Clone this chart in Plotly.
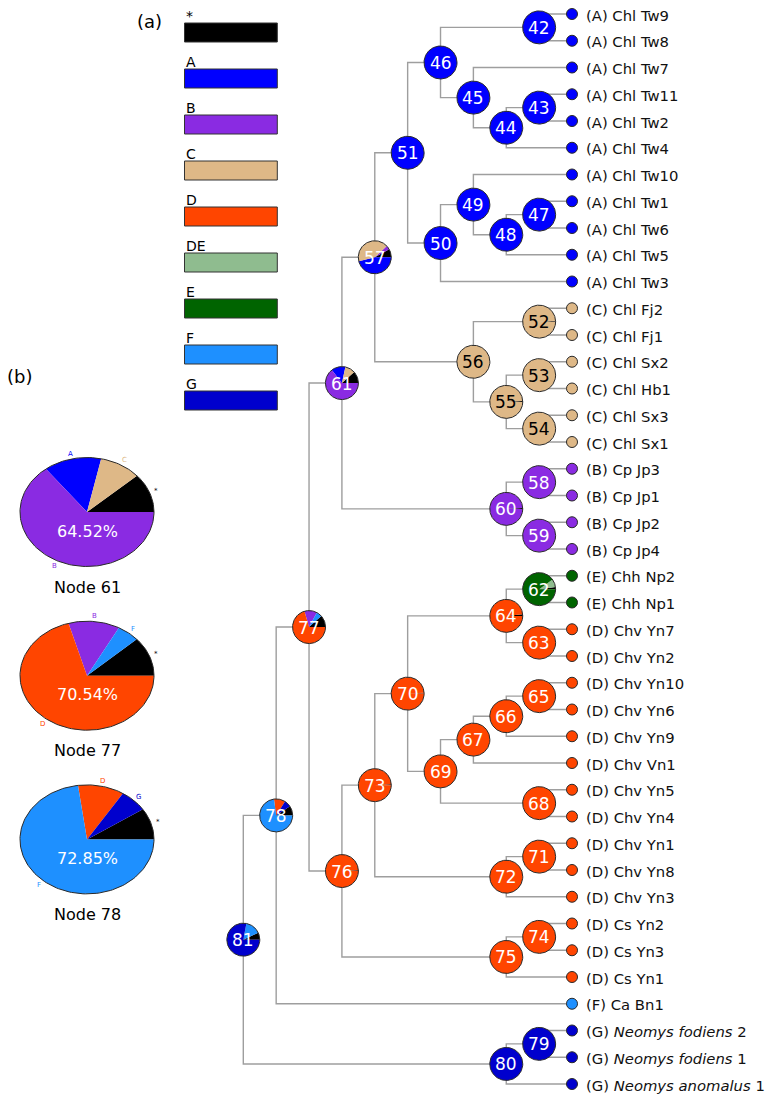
import math
import plotly.graph_objects as go

W, H = 776, 1103
BODY = 8  # default page margin of the html body

# ---------------- data ----------------
group_names = ["*", "A", "B", "C", "D", "DE", "E", "F", "G"]
group_colors = ["#000000", "#0000FF", "#8A2BE2", "#DEB887", "#FF4500",
                "#8FBC8F", "#006400", "#1E90FF", "#0000CD"]

tip_names = ["Chl Tw9", "Chl Tw8", "Chl Tw7", "Chl Tw11", "Chl Tw2", "Chl Tw4",
             "Chl Tw10", "Chl Tw1", "Chl Tw6", "Chl Tw5", "Chl Tw3",
             "Chl Fj2", "Chl Fj1", "Chl Sx2", "Chl Hb1", "Chl Sx3", "Chl Sx1",
             "Cp Jp3", "Cp Jp1", "Cp Jp2", "Cp Jp4",
             "Chh Np2", "Chh Np1",
             "Chv Yn7", "Chv Yn2", "Chv Yn10", "Chv Yn6", "Chv Yn9", "Chv Vn1",
             "Chv Yn5", "Chv Yn4", "Chv Yn1", "Chv Yn8", "Chv Yn3",
             "Cs Yn2", "Cs Yn3", "Cs Yn1",
             "Ca Bn1",
             "Neomys fodiens 2", "Neomys fodiens 1", "Neomys anomalus 1"]
tip_groups = ["A", "A", "A", "A", "A", "A", "A", "A", "A", "A", "A",
              "C", "C", "C", "C", "C", "C",
              "B", "B", "B", "B",
              "E", "E",
              "D", "D", "D", "D", "D", "D", "D", "D", "D", "D", "D",
              "D", "D", "D",
              "F",
              "G", "G", "G"]

node_children = {
    42: ["Chl Tw9", "Chl Tw8"],
    43: ["Chl Tw11", "Chl Tw2"],
    44: [43, "Chl Tw4"],
    45: ["Chl Tw7", 44],
    46: [42, 45],
    47: ["Chl Tw1", "Chl Tw6"],
    48: [47, "Chl Tw5"],
    49: ["Chl Tw10", 48],
    50: [49, "Chl Tw3"],
    51: [46, 50],
    52: ["Chl Fj2", "Chl Fj1"],
    53: ["Chl Sx2", "Chl Hb1"],
    54: ["Chl Sx3", "Chl Sx1"],
    55: [53, 54],
    56: [52, 55],
    57: [51, 56],
    58: ["Cp Jp3", "Cp Jp1"],
    59: ["Cp Jp2", "Cp Jp4"],
    60: [58, 59],
    61: [57, 60],
    62: ["Chh Np2", "Chh Np1"],
    63: ["Chv Yn7", "Chv Yn2"],
    64: [62, 63],
    65: ["Chv Yn10", "Chv Yn6"],
    66: [65, "Chv Yn9"],
    67: [66, "Chv Vn1"],
    68: ["Chv Yn5", "Chv Yn4"],
    69: [67, 68],
    70: [64, 69],
    71: ["Chv Yn1", "Chv Yn8"],
    72: [71, "Chv Yn3"],
    73: [70, 72],
    74: ["Cs Yn2", "Cs Yn3"],
    75: [74, "Cs Yn1"],
    76: [73, 75],
    77: [61, 76],
    78: [77, "Ca Bn1"],
    79: ["Neomys fodiens 2", "Neomys fodiens 1"],
    80: [79, "Neomys anomalus 1"],
    81: [78, 80],
}

# ancestral-state probabilities (%) per node, slice order counter-clockwise from 3 o'clock
node_pie_groups = {
    42: ["A"], 43: ["A"], 44: ["A"], 45: ["A"], 46: ["A"], 47: ["A"], 48: ["A"],
    49: ["A"], 50: ["A"], 51: ["A"],
    52: ["*", "C"], 53: ["C"], 54: ["C"], 55: ["*", "C"], 56: ["C"],
    57: ["*", "B", "C", "A"],
    58: ["B"], 59: ["B"], 60: ["*", "B"],
    61: ["*", "C", "A", "B"],
    62: ["*", "DE", "E"], 63: ["D"], 64: ["*", "D"], 65: ["D"], 66: ["D"],
    67: ["D"], 68: ["D"], 69: ["D"], 70: ["*", "D"], 71: ["D"], 72: ["D"],
    73: ["*", "D"], 74: ["D"], 75: ["D"], 76: ["*", "D"],
    77: ["*", "F", "B", "D"],
    78: ["*", "G", "D", "F"],
    79: ["G"], 80: ["G"],
    81: ["*", "F", "G"],
}
node_pie_values = {
    42: [100], 43: [100], 44: [100], 45: [100], 46: [100], 47: [100], 48: [100],
    49: [100], 50: [100], 51: [100],
    52: [0.8, 99.2], 53: [100], 54: [100], 55: [0.8, 99.2], 56: [100],
    57: [8.0, 4.0, 42.0, 46.0],
    58: [100], 59: [100], 60: [0.8, 99.2],
    61: [11.6, 10.0, 13.88, 64.52],
    62: [2.0, 8.0, 90.0], 63: [100], 64: [1.5, 98.5], 65: [100], 66: [100],
    67: [100], 68: [100], 69: [100], 70: [0.8, 99.2], 71: [100], 72: [100],
    73: [0.8, 99.2], 74: [100], 75: [100], 76: [0.8, 99.2],
    77: [11.7, 5.4, 12.36, 70.54],
    78: [9.3, 6.7, 11.15, 72.85],
    79: [100], 80: [100],
    81: [7.0, 15.0, 78.0],
}

pie_panel_nodes = [61, 77, 78]

# ---------------- layout constants ----------------
TIP_Y0, TIP_DY = 14.0, 26.75
X_ROOT, X_STEP = 243.3, 32.87
NODE_R = 16.5
TIP_LABEL_X = 585
FONT = "DejaVu Sans"

color_of = dict(zip(group_names, group_colors))

# ---------------- tree geometry ----------------
pos = {}
height = {}
for name in tip_names:
    height[name] = 0


def compute(n):
    ch = node_children[n]
    for c in ch:
        if isinstance(c, int) and c not in height:
            compute(c)
    height[n] = 1 + max(height[c] for c in ch)


for n in node_children:
    if n not in height:
        compute(n)
max_h = max(height[n] for n in node_children)

for i, name in enumerate(tip_names):
    pos[name] = (X_ROOT + max_h * X_STEP, TIP_Y0 + i * TIP_DY)


def place(n):
    ch = node_children[n]
    for c in ch:
        if isinstance(c, int) and c not in pos:
            place(c)
    ys = [pos[c][1] for c in ch]
    pos[n] = (X_ROOT + (max_h - height[n]) * X_STEP, (ys[0] + ys[-1]) / 2)


for n in node_children:
    if n not in pos:
        place(n)

fig = go.Figure()

# branches
bx, by = [], []
for n, ch in node_children.items():
    px, py = pos[n]
    for c in ch:
        cx, cy = pos[c]
        bx += [px, px, cx, None]
        by += [py, cy, cy, None]
fig.add_trace(go.Scatter(x=bx, y=by, mode="lines", line=dict(color="#9e9e9e", width=1.4),
                         hoverinfo="skip"))


def wedge(cx, cy, rx, ry, a0, a1):
    xs, ys = [], []
    full = (a1 - a0) >= 359.999
    nseg = max(2, int(abs(a1 - a0) / 2) + 1)
    if not full:
        xs.append(cx)
        ys.append(cy)
    for k in range(nseg + 1):
        a = math.radians(a0 + (a1 - a0) * k / nseg)
        xs.append(cx + rx * math.cos(a))
        ys.append(cy - ry * math.sin(a))
    xs.append(xs[0])
    ys.append(ys[0])
    return xs, ys


poly = {g: ([], []) for g in group_names}
outline_x, outline_y = [], []


def add_pie(cx, cy, rx, ry, groups, values):
    tot = sum(values)
    a = 0.0
    spans = []
    for g, v in zip(groups, values):
        a1 = a + 360.0 * v / tot
        xs, ys = wedge(cx, cy, rx, ry, a, a1)
        poly[g][0].extend(xs + [None])
        poly[g][1].extend(ys + [None])
        spans.append((g, v, a, a1))
        a = a1
    xs, ys = wedge(cx, cy, rx, ry, 0, 360)
    outline_x.extend(xs + [None])
    outline_y.extend(ys + [None])
    return spans


for n in node_children:
    cx, cy = pos[n]
    add_pie(cx, cy, NODE_R, NODE_R, node_pie_groups[n], node_pie_values[n])

# pie panel (b)
PIE_CX, PIE_CY0, PIE_DY = 87.0, 512.0, 163.7
PIE_RX, PIE_RY = 67.0, 54.5
annotations = []
for k, n in enumerate(pie_panel_nodes):
    cy = PIE_CY0 + k * PIE_DY
    spans = add_pie(PIE_CX, cy, PIE_RX, PIE_RY, node_pie_groups[n], node_pie_values[n])
    best = max(spans, key=lambda s: s[1])
    for g, v, a0, a1 in spans:
        am = math.radians((a0 + a1) / 2)
        annotations.append(dict(x=PIE_CX + PIE_RX * 1.1 * math.cos(am),
                                y=cy - PIE_RY * 1.1 * math.sin(am),
                                text=g, showarrow=False,
                                font=dict(family=FONT, size=7, color=color_of[g])))
    annotations.append(dict(x=PIE_CX, y=cy + 19, text=f"{best[1]:.2f}%", showarrow=False,
                            font=dict(family=FONT, size=16, color="white")))
    annotations.append(dict(x=PIE_CX, y=cy + 75, text=f"Node {n}", showarrow=False,
                            font=dict(family=FONT, size=16, color="black")))

for g in group_names:
    xs, ys = poly[g]
    if xs:
        fig.add_trace(go.Scatter(x=xs, y=ys, mode="lines", fill="toself",
                                 fillcolor=color_of[g], line=dict(width=0, color=color_of[g]),
                                 hoverinfo="skip"))
fig.add_trace(go.Scatter(x=outline_x, y=outline_y, mode="lines",
                         line=dict(color="#2a2a2a", width=1), hoverinfo="skip"))

# tips
fig.add_trace(go.Scatter(
    x=[pos[t][0] for t in tip_names], y=[pos[t][1] for t in tip_names], mode="markers",
    marker=dict(size=11, color=[color_of[g] for g in tip_groups],
                line=dict(color="#2a2a2a", width=1)),
    hoverinfo="skip"))

# node numbers
for n in node_children:
    cx, cy = pos[n]
    dom = node_pie_groups[n][node_pie_values[n].index(max(node_pie_values[n]))]
    annotations.append(dict(x=cx, y=cy + 0.5, text=str(n), showarrow=False,
                            font=dict(family=FONT, size=17,
                                      color="black" if dom == "C" and n != 57 else "white")))

# tip labels
for t, g in zip(tip_names, tip_groups):
    if t.startswith("Neomys"):
        sp, num = t.rsplit(" ", 1)
        txt = f"({g}) <i>{sp}</i> {num}"
    else:
        txt = f"({g}) {t}"
    annotations.append(dict(x=TIP_LABEL_X, y=pos[t][1] + 1, text=txt, showarrow=False,
                            xanchor="left", borderpad=0,
                            font=dict(family=FONT, size=14.8, color="#111")))

# legend (a)
LEG_X0, LEG_X1, LEG_Y0, LEG_DY, LEG_H = 184.5, 277.3, 23.0, 46.0, 19.0
shapes = []
for i, (g, c) in enumerate(zip(group_names, group_colors)):
    top = LEG_Y0 + i * LEG_DY
    shapes.append(dict(type="rect", xref="x", yref="y", x0=LEG_X0, x1=LEG_X1, y0=top, y1=top + LEG_H,
                       fillcolor=c, line=dict(color="#333", width=1)))
    annotations.append(dict(x=LEG_X0 - 1, y=top - 7.5, text=g, showarrow=False, xanchor="left",
                            font=dict(family=FONT, size=14, color="black")))

annotations.append(dict(x=149.5, y=21, text="(a)", showarrow=False,
                        font=dict(family=FONT, size=18, color="black")))
annotations.append(dict(x=19.5, y=376, text="(b)", showarrow=False,
                        font=dict(family=FONT, size=18, color="black")))

# the page body adds an 8px margin; the axes are offset so 1 unit == 1 screen pixel
fig.update_layout(
    width=W - BODY, height=H - BODY, margin=dict(l=0, r=0, t=0, b=0),
    paper_bgcolor="white", plot_bgcolor="white", showlegend=False,
    xaxis=dict(range=[BODY, W], visible=False, fixedrange=True),
    yaxis=dict(range=[H, BODY], visible=False, fixedrange=True),
    annotations=annotations, shapes=shapes,
)
fig.write_html("out.html")
